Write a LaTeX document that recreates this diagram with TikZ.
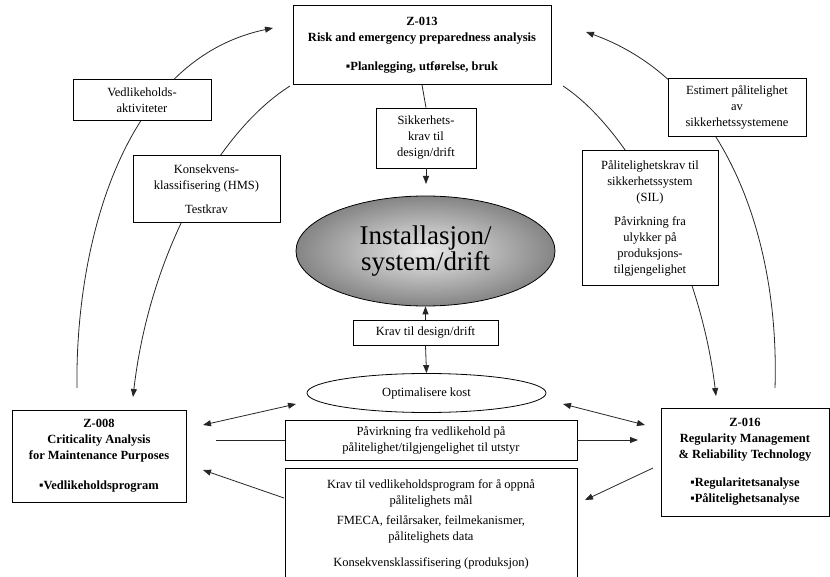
\documentclass[tikz,border=0pt]{standalone}
\usepackage{fontspec}
\setmainfont{Liberation Serif}
\usetikzlibrary{arrows.meta,shapes.geometric}
\begin{document}
\begin{tikzpicture}[x=1pt,y=-1pt,
  box/.style={draw,line width=0.8pt,fill=white,align=center,inner sep=0pt,font=\fontsize{12.5}{16}\selectfont},
  zbox/.style={box,font=\fontsize{12.5}{16}\selectfont\bfseries},
  conn/.style={line width=0.8pt,draw=black!85},
  arr/.style={conn,-{Triangle[length=8pt,width=6pt]}},
  darr/.style={conn,{Triangle[length=8pt,width=6pt]}-{Triangle[length=8pt,width=6pt]}},
]
\useasboundingbox (0,0) rectangle (830,577);

% free ends of connectors
\coordinate (a1s) at (77,388);
\coordinate (a1e) at (273,28);
\coordinate (a2s) at (290,86);
\coordinate (a2e) at (133,397);
\coordinate (a3s) at (775,388);
\coordinate (a3e) at (586,32);
\coordinate (a4s) at (563,86);
\coordinate (a4e) at (716,396);
\coordinate (sk) at (426,184);
\coordinate (dl1) at (203,425);
\coordinate (dl2) at (296,404);
\coordinate (dr1) at (563,404);
\coordinate (dr2) at (645,425);
\coordinate (pl) at (216,440);
\coordinate (pr) at (638,440);
\coordinate (rs) at (653,468);
\coordinate (re) at (585,500);
\coordinate (ls) at (284,498);
\coordinate (le) at (203,470);

% curved connectors (drawn first, label boxes on top)
\draw[arr] (a1s) .. controls (75,250) and (120,60) .. (a1e);
\draw[arr] (a2s) .. controls (220,130) and (150,250) .. (a2e);
\draw[arr] (a3s) .. controls (780,230) and (720,80) .. (a3e);
\draw[arr] (a4s) .. controls (630,130) and (700,260) .. (a4e);

% boxes
\node[zbox,minimum width=258,minimum height=79] (z013) at (422,45)
  {Z-013\\Risk and emergency preparedness analysis\\[13pt]▪Planlegging, utførelse, bruk};
\node[box,minimum width=138,minimum height=41] (ved) at (142,100)
  {Vedlikeholds-\\aktiviteter};
\node[box,minimum width=147,minimum height=67] (kons) at (206.5,189)
  {Konsekvens-\\klassifisering (HMS)\\[8pt]Testkrav};
\node[box,minimum width=100,minimum height=60] (sikk) at (426,138)
  {Sikkerhets-\\krav til\\design/drift};
\node[box,minimum width=138,minimum height=58] (est) at (737,107)
  {Estimert pålitelighet\\av\\sikkerhetssystemene};
\node[box,minimum width=136,minimum height=135] (pal) at (650,218)
  {Pålitelighetskrav til\\sikkerhetssystem\\(SIL)\\[8pt]Påvirkning fra\\ulykker på\\produksjons-\\tilgjengelighet};
\node[ellipse,draw,line width=0.8pt,inner color=black!8,outer color=black!48,
  minimum width=259,minimum height=110,inner sep=0pt,align=center,
  font=\fontsize{27}{26}\selectfont] (inst) at (425.5,251)
  {Installasjon/\\system/drift};
\node[box,minimum width=145,minimum height=25] (kdd) at (425.5,332.5)
  {Krav til design/drift};
\node[ellipse,draw,line width=0.8pt,fill=white,minimum width=239,minimum height=39,
  inner sep=0pt,font=\fontsize{12.5}{16}\selectfont] (opt) at (426.5,393)
  {Optimalisere kost};
\node[box,minimum width=292,minimum height=40] (pav) at (431,440)
  {Påvirkning fra vedlikehold på\\pålitelighet/tilgjengelighet til utstyr};
\node[box,minimum width=292,minimum height=111,anchor=north] (kv) at (431,468)
  {Krav til vedlikeholdsprogram for å oppnå\\pålitelighets mål\\[4pt]FMECA, feilårsaker, feilmekanismer,\\pålitelighets data\\[10pt]Konsekvensklassifisering (produksjon)};
\node[zbox,minimum width=174,minimum height=92] (z008) at (99,456)
  {Z-008\\Criticality Analysis\\for Maintenance Purposes\\[14pt]▪Vedlikeholdsprogram};
\node[zbox,minimum width=168,minimum height=108] (z016) at (745,462)
  {Z-016\\Regularity Management\\\& Reliability Technology\\[12pt]▪Regularitetsanalyse\\▪Pålitelighetsanalyse};

% straight connectors
\draw[conn] (z013.south) -- (sikk.north);
\draw[arr] (sikk.south) -- (sk);
\draw[arr] (kdd.north) -- (inst.south);
\draw[arr] (kdd.south) -- (opt.north);
\draw[darr] (dl1) -- (dl2);
\draw[darr] (dr1) -- (dr2);
\draw[conn] (pl) -- (pav.west);
\draw[arr] (pav.east) -- (pr);
\draw[arr] (rs) -- (re);
\draw[arr] (ls) -- (le);
\end{tikzpicture}
\end{document}
